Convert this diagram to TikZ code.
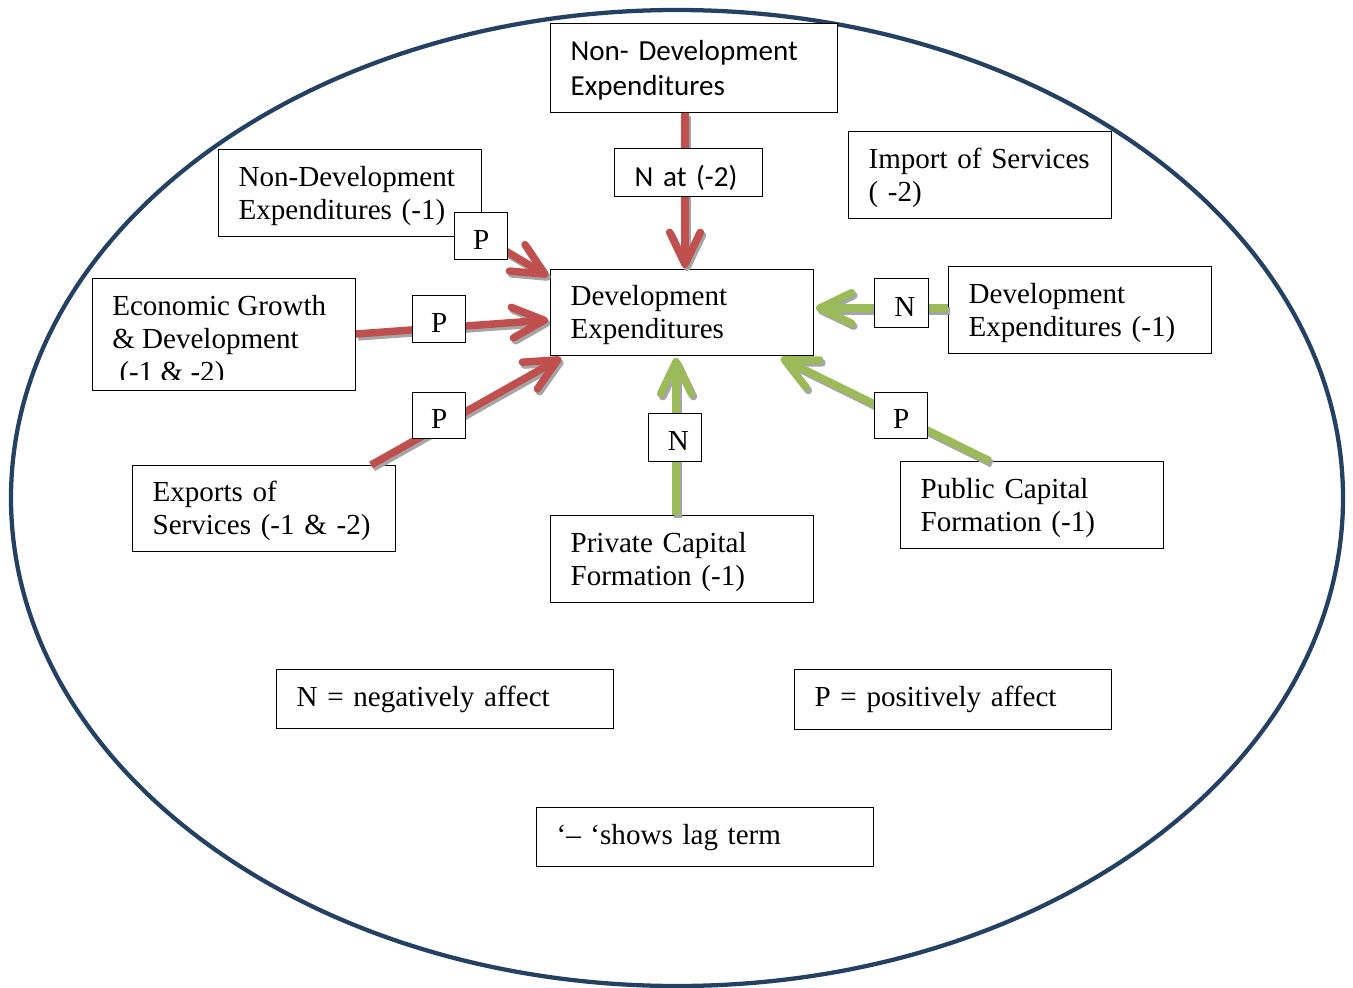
\documentclass[tikz,border=0pt]{standalone}
\usepackage{fontspec}
\setmainfont{Liberation Serif}
\newfontfamily\calibrilike{Carlito}
\usetikzlibrary{arrows.meta}

\definecolor{ringblue}{RGB}{36,64,98}
\definecolor{negred}{RGB}{192,80,77}
\definecolor{posgreen}{RGB}{155,187,89}
\definecolor{shadowgray}{RGB}{165,165,165}

\tikzset{
  x=0.75pt, y=-0.75pt,
  txt/.style={font=\fontsize{21.8}{24.8}\selectfont},
  box/.style={draw=black, line width=0.9pt, fill=white, rectangle, inner sep=0pt,
    align=left, txt, anchor=north west},
  twoline/.style={execute at begin node={\rule{0pt}{19.4pt}},
    execute at end node={\rule[-4.5pt]{0pt}{0pt}}},
  tag/.style={draw=black, line width=0.9pt, fill=white, rectangle, inner sep=0pt,
    anchor=north west, txt, text height=19.6pt, text depth=0pt},
  flow/.style={line width=5.6pt,
    -{Straight Barb[length=24pt,width=23pt,round]}},
  redflow/.style={flow, draw=negred},
  greenflow/.style={flow, draw=posgreen},
  shade/.style={flow, draw=shadowgray, transform canvas={shift={(1.6pt,-2.2pt)}}},
}

% a framed text box: #1 options, #2 name, #3 left, #4 top, #5 width, #6 height, #7 text
\newcommand{\tbox}[7][]{%
  \node[box, #1, minimum width=#5*0.75pt, minimum height=#6*0.75pt,
        text width=#5*0.75pt-30pt] (#2) at (#3,#4) {#7};}

\begin{document}
\begin{tikzpicture}
\useasboundingbox (0,0) rectangle (1353,988);

% outer ring
\draw[ringblue, line width=3.2pt] (677,498) ellipse [x radius=666, y radius=488];

% boxes
\tbox[twoline, font=\calibrilike\fontsize{21.8}{26.3}\selectfont]{ndevtop}{550}{23}{287}{89}{Non- Development\\Expenditures}
\tbox[twoline]{imports}{848}{131}{263}{87}{Import of Services\\( -2)}
\tbox[twoline]{ndevlag}{218}{149}{263}{87}{Non-Development\\Expenditures (-1)}
\tbox[twoline]{dev}{550}{269}{263}{86}{Development\\Expenditures}
\tbox[twoline]{devlag}{948}{266}{263}{87}{Development\\Expenditures (-1)}
\node[box, minimum width=263*0.75pt, minimum height=112*0.75pt] (growth) at (92,278) {};
\begin{scope}
  \clip (100,282) rectangle (350,379);
  \node[txt, anchor=north west, align=left, inner sep=0pt] (growthtext) at (112,295)
    {Economic Growth\\\& Development\\\ (-1 \& -2)};
\end{scope}
\tbox[twoline]{exports}{132}{465}{263}{86}{Exports of\\Services (-1 \& -2)}
\tbox[twoline]{private}{550}{515}{263}{87}{Private Capital\\Formation (-1)}
\tbox[twoline]{public}{900}{461}{263}{87}{Public Capital\\Formation (-1)}

% legend
\tbox{legn}{276}{669}{337}{59}{N = negatively affect}
\tbox{legp}{794}{669}{317}{60}{P = positively affect}
\tbox{leglag}{536}{807}{337}{59}{‘– ‘shows lag term}

% end points of the arrows
\coordinate (t1) at (685,268);
\coordinate (s1) at (685,113);
\coordinate (t2) at (548,276);
\coordinate (t3) at (548,320);
\coordinate (s3) at (356,334);
\coordinate (t4) at (561,358);
\coordinate (s4) at (371,465);
\coordinate (t5) at (816,308);
\coordinate (s5) at (948,308);
\coordinate (t6) at (676,358);
\coordinate (s6) at (676,515);
\coordinate (t7) at (781,358);
\coordinate (s7) at (990,461);

% arrows with their soft shadows
\foreach \a/\b in {s1/t1, ndevlag.south east/t2, s3/t3, s4/t4, s5/t5, s6/t6, s7/t7}
  \draw[shade] (\a) -- (\b);
\draw[redflow] (s1) -- (t1);
\draw[redflow] (ndevlag.south east) -- (t2);
\draw[redflow] (s3) -- (t3);
\draw[redflow] (s4) -- (t4);
\draw[greenflow] (s5) -- (t5);
\draw[greenflow] (s6) -- (t6);
\draw[greenflow] (s7) -- (t7);

% labels on the arrows
\node[tag, minimum width=148*0.75pt, minimum height=48*0.75pt, text width=148*0.75pt-30pt,
      align=left, font=\calibrilike\fontsize{21.8}{24.8}\selectfont, text height=21.5pt]
  (tagtop) at (614,148) {N at (-2)};
\node[tag, minimum width=53*0.75pt, minimum height=47*0.75pt] (tagp1) at (454,212) {P};
\node[tag, minimum width=53*0.75pt, minimum height=47*0.75pt] (tagp2) at (412,295) {P};
\node[tag, minimum width=53*0.75pt, minimum height=46*0.75pt] (tagp3) at (412,392) {P};
\node[tag, minimum width=54*0.75pt, minimum height=49*0.75pt] (tagn1) at (874,278) {\hspace*{5pt}N};
\node[tag, minimum width=53*0.75pt, minimum height=48*0.75pt] (tagn2) at (648,413) {\hspace*{5pt}N};
\node[tag, minimum width=53*0.75pt, minimum height=46*0.75pt] (tagp4) at (874,392) {P};
\end{tikzpicture}
\end{document}
